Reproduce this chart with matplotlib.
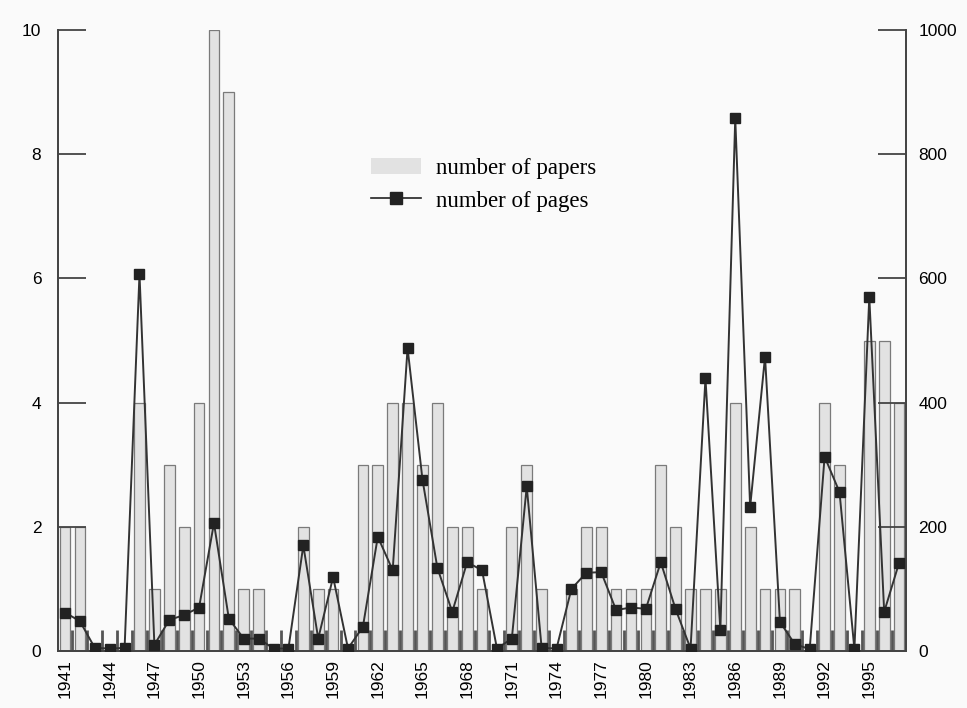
import numpy as np
import matplotlib
matplotlib.use("Agg")
import matplotlib.pyplot as plt
from matplotlib.patches import Patch
from matplotlib.lines import Line2D

years = list(range(1941, 1998))
papers = [2, 2, 0, 0, 0, 4, 1, 3, 2, 4,
          10, 9, 1, 1, 0, 0, 2, 1, 1, 0,
          3, 3, 4, 4, 3, 4, 2, 2, 1, 0,
          2, 3, 1, 0, 1, 2, 2, 1, 1, 1,
          3, 2, 1, 1, 1, 4, 2, 1, 1, 1,
          0, 4, 3, 0, 5, 5, 4]
pages = [62, 48, 5, 4, 5, 607, 10, 50, 58, 70,
         206, 52, 20, 20, 4, 4, 170, 20, 119, 4,
         39, 184, 130, 488, 276, 134, 63, 143, 130, 4,
         20, 265, 5, 4, 100, 126, 127, 66, 70, 68,
         143, 67, 4, 439, 34, 858, 232, 474, 47, 11,
         3, 313, 256, 3, 570, 63, 142]
label_years = list(range(1941, 1998, 3))

plt.rcParams["font.family"] = ["Liberation Sans", "DejaVu Sans"]

fig = plt.figure(figsize=(9.67, 7.08), dpi=100, facecolor="#fafafa")
ax = fig.add_axes([0.06, 0.0805, 0.877, 0.877])
ax.set_facecolor("#fafafa")
x = np.arange(len(years))

ax.bar(x, papers, width=0.72, color="#e2e2e2", edgecolor="#7a7a7a",
       linewidth=0.9, zorder=1)
ax.set_xlim(-0.47, len(years) - 0.53)
ax.set_ylim(0, 10)
ax.set_yticks(range(0, 11, 2))

ax.set_xticks([years.index(y) for y in label_years])
ax.set_xticklabels([str(y) for y in label_years], rotation=90, fontsize=12.5)
ax.set_xticks(np.arange(len(years) - 1) + 0.5, minor=True)
ax.tick_params(axis="x", which="major", length=0, pad=6)
ax.tick_params(axis="x", which="minor", direction="in", length=15,
               width=2, color="#555555")
ax.tick_params(axis="y", direction="in", length=20, width=1.3,
               color="#444444", labelsize=12.5, pad=12)

ax2 = ax.twinx()
ax2.plot(x, pages, color="#333333", linewidth=1.4, marker="s",
         markersize=7.5, markerfacecolor="#222222", markeredgecolor="#222222",
         zorder=3)
ax2.set_ylim(0, 1000)
ax2.set_yticks(range(0, 1001, 200))
ax2.tick_params(axis="y", direction="in", length=20, width=1.3,
                color="#444444", labelsize=12.5, pad=9)

for a in (ax, ax2):
    a.spines["top"].set_visible(False)
    for s in ("left", "right", "bottom"):
        a.spines[s].set_color("#444444")
        a.spines[s].set_linewidth(1.3)

handles = [Patch(facecolor="#e2e2e2", edgecolor="none"),
           Line2D([], [], color="#222222", linewidth=1.2, marker="s",
                  markersize=9)]
leg = ax2.legend(handles, ["number of papers", "number of pages"],
                 loc="upper left", bbox_to_anchor=(0.362, 0.806),
                 bbox_transform=fig.transFigure, frameon=False,
                 handlelength=2.2, handletextpad=0.65, labelspacing=0.5,
                 prop={"family": "Liberation Serif", "size": 16.5})

fig.savefig("out.png", dpi=100, facecolor=fig.get_facecolor())
